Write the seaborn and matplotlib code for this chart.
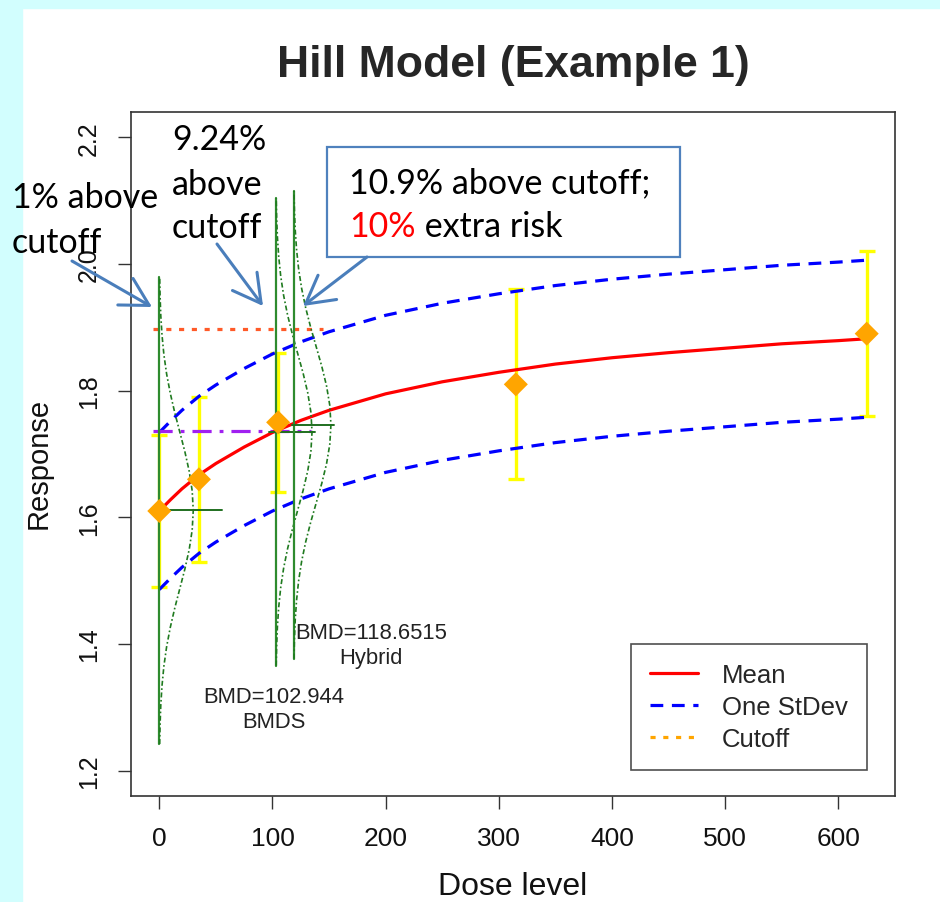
import matplotlib
matplotlib.use("Agg")
import matplotlib.pyplot as plt
from matplotlib.patches import Rectangle, FancyArrowPatch
from matplotlib.lines import Line2D
import numpy as np
import pandas as pd
import seaborn as sns

# ---- observed dose groups ----
dose = [0, 35, 105, 315, 625]
resp_mean = [1.61, 1.66, 1.75, 1.81, 1.89]
resp_sd = [0.12, 0.13, 0.11, 0.15, 0.13]

# ---- fitted Hill mean curve ----
curve_dose = [0, 10, 20, 35, 50, 75, 100, 125, 150, 200, 250, 300, 350,
              400, 450, 500, 550, 600, 625]
curve_mean = [1.610, 1.628, 1.645, 1.667, 1.685, 1.711, 1.734, 1.753, 1.769,
              1.795, 1.814, 1.829, 1.842, 1.852, 1.860, 1.867, 1.874, 1.879,
              1.882]
model_sd = 0.124

# ---- reference levels ----
cutoff_level = 1.898
cutoff_span = [-6, 145]
control_level = 1.736
control_span = [-6, 134]

# ---- response distributions at control and at the two BMDs ----
bmd_dose = [0, 102.944, 118.6515]
bmd_center = [1.611, 1.735, 1.746]
bmd_sd = [0.123, 0.123, 0.123]
bmd_peak = [30, 32, 33]
bmd_bar_lo = [0, 97, 117.5]
bmd_bar_hi = [55, 138, 154]
density_z = [-3.0, -2.75, -2.5, -2.25, -2.0, -1.75, -1.5, -1.25, -1.0, -0.75,
             -0.5, -0.25, 0.0, 0.25, 0.5, 0.75, 1.0, 1.25, 1.5, 1.75, 2.0,
             2.25, 2.5, 2.75, 3.0]
density_rel = [0.011, 0.023, 0.044, 0.080, 0.135, 0.216, 0.325, 0.458, 0.607,
               0.755, 0.882, 0.969, 1.000, 0.969, 0.882, 0.755, 0.607, 0.458,
               0.325, 0.216, 0.135, 0.080, 0.044, 0.023, 0.011]

x_ticks = [0, 100, 200, 300, 400, 500, 600]
y_ticks = [1.2, 1.4, 1.6, 1.8, 2.0, 2.2]
y_tick_labels = ["1.2", "1.4", "1.6", "1.8", "2.0", "2.2"]

sns.set_style("white")
plot_font = "Liberation Sans"
note_font = ["Lato", "DejaVu Sans"]
plt.rcParams["font.family"] = ["Liberation Sans", "DejaVu Sans"]

W, H = 940, 903
fig = plt.figure(figsize=(W / 100, H / 100), dpi=100)
fig.patch.set_facecolor("white")
# slide background bands
fig.patches.append(Rectangle((0, 0), 22 / W, 1, transform=fig.transFigure,
                             color="#D2FEFE", zorder=0))
fig.patches.append(Rectangle((0, 1 - 9 / H), 1, 9 / H, transform=fig.transFigure,
                             color="#D2FEFE", zorder=0))

ax = fig.add_axes([131 / W, (H - 797) / H, (895 - 131) / W, (797 - 113) / H])
ax.set_facecolor("white")

df_curve = pd.DataFrame({"dose": curve_dose, "mean": curve_mean})
df_curve["upper"] = df_curve["mean"] + model_sd
df_curve["lower"] = df_curve["mean"] - model_sd
df_obs = pd.DataFrame({"dose": dose, "mean": resp_mean, "sd": resp_sd})

# error bars of the observed groups
ax.errorbar(df_obs["dose"], df_obs["mean"], yerr=df_obs["sd"], fmt="none",
            ecolor="#FFFF00", elinewidth=2.4, capsize=5.5, capthick=2.4, zorder=3)

# one-SD band around the mean curve
for col in ["upper", "lower"]:
    sns.lineplot(data=df_curve, x="dose", y=col, ax=ax, color="#0000FF",
                 linewidth=2.3, zorder=4)
for ln in ax.get_lines()[-2:]:
    ln.set_dashes((4, 2.7))

sns.lineplot(data=df_curve, x="dose", y="mean", ax=ax, color="#FF0000",
             linewidth=2.3, zorder=5)

# cutoff and control+1SD levels
ax.plot(cutoff_span, [cutoff_level] * 2, color="#FF5A28", linewidth=2.3,
        dashes=(1.6, 2.4), zorder=4)
ax.plot(control_span, [control_level] * 2, color="#A020F0", linewidth=2.3,
        dashes=(6, 2.5, 1.2, 2.5), zorder=4)

# response distributions
z = np.array(density_z)
rel = np.array(density_rel)
for d, c, s, pk, lo, hi in zip(bmd_dose, bmd_center, bmd_sd, bmd_peak,
                               bmd_bar_lo, bmd_bar_hi):
    ax.plot([d, d], [c - 3 * s, c + 3 * s], color="#2E8B2E", linewidth=1.6, zorder=6)
    ax.plot(d + pk * rel, c + z * s, color="#1F7A1F", linewidth=1.2,
            dashes=(3, 1.5, 1, 1.5), zorder=6)
    ax.plot([lo, hi], [c, c], color="#1F6F1F", linewidth=1.4, zorder=6)

sns.scatterplot(data=df_obs, x="dose", y="mean", ax=ax, marker="D", s=150,
                color="#FFA500", edgecolor="none", linewidth=0, zorder=7)

ax.text(101.5, 1.297, "BMD=102.944\nBMDS", ha="center", va="center",
        fontsize=15.8, linespacing=1.25, color="#222222", family=plot_font)
ax.text(187, 1.398, "BMD=118.6515\nHybrid", ha="center", va="center",
        fontsize=15.8, linespacing=1.25, color="#222222", family=plot_font)

ax.set_xlim(-25, 650)
ax.set_ylim(1.16, 2.24)
ax.set_xticks(x_ticks)
ax.set_xticklabels([str(v) for v in x_ticks], family=plot_font, fontsize=19)
ax.set_yticks(y_ticks)
ax.set_yticklabels(y_tick_labels, family=plot_font, fontsize=18, rotation=90,
                   va="center")
ax.tick_params(axis="both", direction="out", length=9.5, width=1.0,
               color="#333333", pad=12, labelcolor="#111111",
               bottom=True, left=True)
for sp in ax.spines.values():
    sp.set_visible(True)
    sp.set_color("#333333")
    sp.set_linewidth(1.2)

ax.set_xlabel("Dose level", family=plot_font, fontsize=23, color="#111111",
              va="top")
ax.set_ylabel("Response", family=plot_font, fontsize=21, color="#111111")
ax.xaxis.set_label_coords(0.5, -0.11)
ax.yaxis.set_label_coords(-0.102, 0.488)

handles = [Line2D([], [], color="#FF0000", linewidth=2.3),
           Line2D([], [], color="#0000FF", linewidth=2.3, dashes=(4, 2.7)),
           Line2D([], [], color="#FFA500", linewidth=2.3, dashes=(1.6, 2.4))]
leg = ax.legend(handles, ["Mean", "One StDev", "Cutoff"], loc="lower right",
                bbox_to_anchor=(0.963, 0.038), frameon=True, fancybox=False,
                edgecolor="#222222", handlelength=1.87,
                handletextpad=0.9, labelspacing=0.31, borderpad=0.75,
                borderaxespad=0, prop={"family": plot_font, "size": 18.5})
leg.get_frame().set_linewidth(1.2)

fig.text(513 / W, 1 - 77 / H, "Hill Model (Example 1)", ha="center",
         va="baseline", fontsize=32, fontweight="bold", family=plot_font)

# callouts
note_kw = dict(fontsize=24.5, family=note_font, color="black", va="baseline",
               ha="left")
fig.text(12 / W, 1 - 208 / H, "1% above", **note_kw)
fig.text(12 / W, 1 - 253 / H, "cutoff", **note_kw)
fig.text(172 / W, 1 - 150 / H, "9.24%", **note_kw)
fig.text(172 / W, 1 - 195 / H, "above", **note_kw)
fig.text(172 / W, 1 - 238 / H, "cutoff", **note_kw)

fig.patches.append(Rectangle((327 / W, 1 - 258 / H), (680 - 327) / W,
                             (258 - 148) / H, transform=fig.transFigure,
                             facecolor="white", edgecolor="#4F81BD",
                             linewidth=1.6, zorder=5))
fig.text(349 / W, 1 - 193 / H, "10.9% above cutoff;", zorder=6, **note_kw)
t_red = fig.text(349 / W, 1 - 237 / H, "10%", fontsize=24.5, family=note_font,
                 color="#FF0000", va="baseline", ha="left", zorder=6)
fig.canvas.draw()
bb = t_red.get_window_extent()
fig.text(bb.x1 / W, 1 - 237 / H, " extra risk", zorder=6, **note_kw)

arrow_kw = dict(arrowstyle="->,head_length=0.9,head_width=0.5",
                color="#4A7EBB", lw=2.2, shrinkA=0, shrinkB=0,
                mutation_scale=22)
for (x0, y0), (x1, y1) in [((72, 262), (152, 308)),
                           ((217, 245), (263, 307)),
                           ((367, 258), (303, 307))]:
    fig.add_artist(FancyArrowPatch(
        (x0 / W, 1 - y0 / H), (x1 / W, 1 - y1 / H),
        transform=fig.transFigure, zorder=8, **arrow_kw))

fig.savefig("out.png", dpi=100)
